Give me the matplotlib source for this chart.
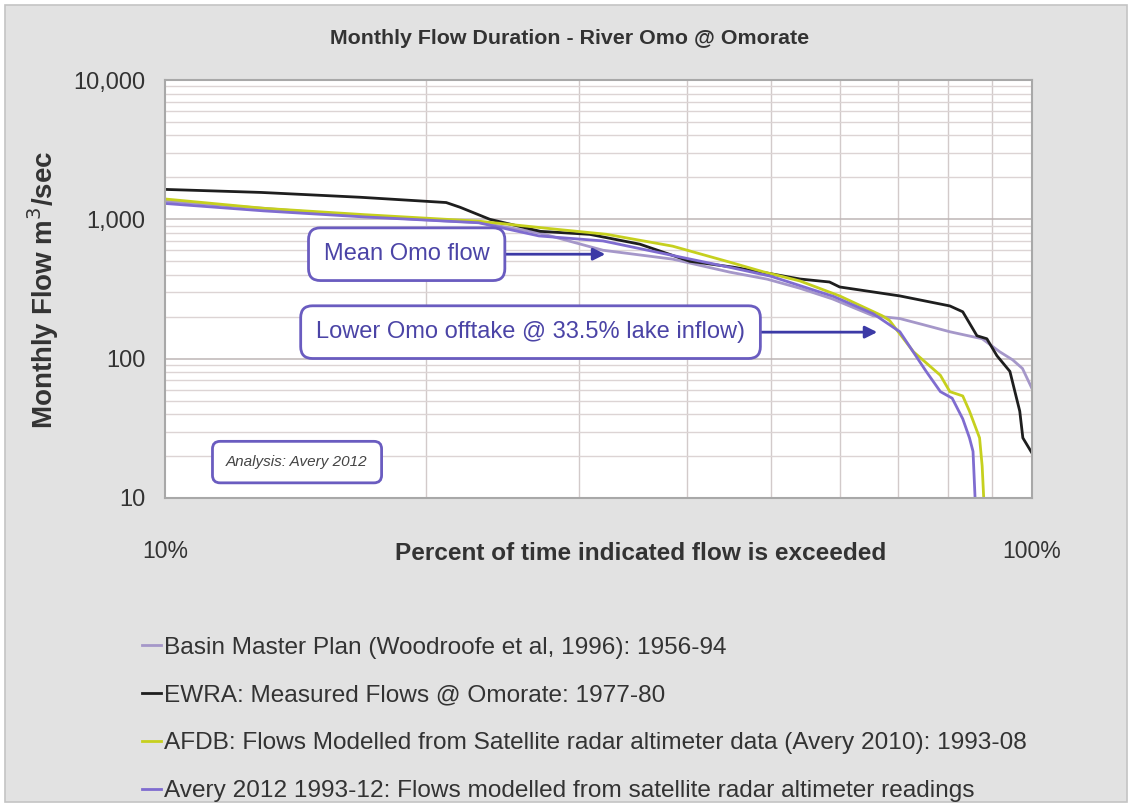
import matplotlib
matplotlib.use("Agg")
import matplotlib.pyplot as plt
from matplotlib.patches import Rectangle
from matplotlib.ticker import FixedLocator, FuncFormatter, NullFormatter, LogLocator

# ---- data: percent of time exceeded vs monthly flow (m3/s) ----
basin_pct = [10, 13, 17, 21, 23, 27, 32, 38.5, 44.8, 49.5, 54, 58.9, 65.6, 70.4, 75, 80.4, 84, 87.6, 91.8, 95, 97.5, 100]
basin_flow = [1350, 1200, 1050, 975, 950, 800, 600, 518, 418, 372, 320, 268, 203, 194, 175, 156, 147, 139, 112, 98, 85, 61]

ewra_pct = [10, 12.9, 16.8, 21.1, 21.9, 23.7, 27.1, 30.9, 35.3, 40.3, 45.2, 50.2, 54, 58.4, 60, 70.4, 80.4, 83.2, 86.4, 88.7, 91.1, 94.3, 96.8, 97.6, 100]
ewra_flow = [1640, 1560, 1440, 1320, 1220, 1000, 820, 780, 663, 500, 454, 405, 373, 355, 327, 282, 239, 217, 146, 139, 105, 81, 42, 27, 21]

afdb_pct = [10, 13, 17, 23, 28.3, 32.3, 38.5, 44.8, 49, 54, 60, 67.2, 68.5, 73, 78.4, 80.4, 83.2, 84.7, 87, 87.6, 88]
afdb_flow = [1400, 1200, 1080, 970, 848, 781, 642, 493, 420, 361, 282, 203, 188, 112, 76, 58, 54, 42, 27, 17, 9.5]

avery_pct = [10, 13, 17, 23, 27, 32, 38, 45, 50, 59, 65.6, 70.4, 75.5, 78.4, 80.9, 83.2, 84.7, 85.5, 86]
avery_flow = [1300, 1150, 1040, 945, 760, 700, 560, 450, 390, 280, 210, 156, 81, 58, 52, 37, 27, 21.6, 9.5]

series_labels = [
    "Basin Master Plan (Woodroofe et al, 1996): 1956-94",
    "EWRA: Measured Flows @ Omorate: 1977-80",
    "AFDB: Flows Modelled from Satellite radar altimeter data (Avery 2010): 1993-08",
    "Avery 2012 1993-12: Flows modelled from satellite radar altimeter readings",
]
series_colors = ["#a597c9", "#1e1e1e", "#c6d01e", "#7f6cd0"]

y_ticks = [10, 100, 1000, 10000]
x_ticks = [10, 100]
x_grid = [20, 30, 40, 50, 60, 70, 80, 90]

regular = ["Liberation Sans", "DejaVu Sans"]

fig = plt.figure(figsize=(11.32, 8.07), dpi=100, facecolor="white")
# grey chart panel with a thin white margin
fig.patches.append(Rectangle((5 / 1132, 5 / 807), 1122 / 1132, 797 / 807,
                             transform=fig.transFigure, facecolor="#e2e2e2",
                             edgecolor="#c4c4c4", linewidth=1.2, zorder=-10))

ax = fig.add_axes([165 / 1132, 1 - 498 / 807, 867 / 1132, 418 / 807])
ax.set_zorder(2)
ax.set_facecolor("white")
ax.set_xscale("log")
ax.set_yscale("log")
ax.set_xlim(10, 100)
ax.set_ylim(10, 10000)

# grid
ax.yaxis.set_minor_locator(LogLocator(base=10, subs=range(2, 10)))
ax.yaxis.set_minor_formatter(NullFormatter())
ax.grid(True, which="major", axis="y", color="#bdb5b5", linewidth=1.1)
ax.grid(True, which="minor", axis="y", color="#dcd4d4", linewidth=1.0)
ax.xaxis.set_minor_locator(FixedLocator(x_grid))
ax.xaxis.set_minor_formatter(NullFormatter())
ax.grid(True, which="minor", axis="x", color="#d2caca", linewidth=1.0)
ax.set_axisbelow(True)

ax.xaxis.set_major_locator(FixedLocator(x_ticks))
ax.xaxis.set_major_formatter(FuncFormatter(lambda v, p: f"{v:.0f}%"))
ax.yaxis.set_major_locator(FixedLocator(y_ticks))
ax.yaxis.set_major_formatter(FuncFormatter(lambda v, p: f"{v:,.0f}"))
ax.tick_params(axis="x", which="both", length=0, pad=30, labelsize=16.5, labelcolor="#333333")
ax.tick_params(axis="y", which="major", length=0, pad=14, labelsize=17, labelcolor="#333333")
ax.tick_params(axis="y", which="minor", length=0)
for lab in ax.get_xticklabels() + ax.get_yticklabels():
    lab.set_family(regular)

for s in ax.spines.values():
    s.set_color("#a8a8a8")
    s.set_linewidth(1.5)

# flow duration curves
data = [(basin_pct, basin_flow), (ewra_pct, ewra_flow), (afdb_pct, afdb_flow), (avery_pct, avery_flow)]
handles = []
for (xs, ys), lab, col in zip(data, series_labels, series_colors):
    h, = ax.plot(xs, ys, color=col, linewidth=2.0, label=lab, solid_joinstyle="round")
    handles.append(h)

# annotation boxes
box_ec = "#6a5cc0"
txt_col = "#4b44a6"
ax.annotate("Mean Omo flow", xy=(32.2, 562), xytext=(19.0, 562),
            ha="center", va="center", fontsize=17, color=txt_col, family=regular,
            bbox=dict(boxstyle="round,pad=0.65,rounding_size=0.5", fc="white", ec=box_ec, lw=2),
            arrowprops=dict(arrowstyle="-|>", color="#3c3aa6", lw=2, mutation_scale=18,
                            shrinkA=0, shrinkB=0))
ax.annotate("Lower Omo offtake @ 33.5% lake inflow)", xy=(66.3, 155), xytext=(26.4, 155),
            ha="center", va="center", fontsize=17, color=txt_col, family=regular,
            bbox=dict(boxstyle="round,pad=0.65,rounding_size=0.5", fc="white", ec=box_ec, lw=2),
            arrowprops=dict(arrowstyle="-|>", color="#3c3aa6", lw=2, mutation_scale=18,
                            shrinkA=0, shrinkB=0))
ax.text(14.2, 18.1, "Analysis: Avery 2012", ha="center", va="center", fontsize=11,
        style="italic", color="#444444", family=regular,
        bbox=dict(boxstyle="round,pad=0.9,rounding_size=0.5", fc="white", ec=box_ec, lw=2))

# titles and axis labels
fig.text(570 / 1132, 1 - 38 / 807, "Monthly Flow Duration - River Omo @ Omorate",
         ha="center", va="center", fontsize=15.4, fontweight="bold", color="#333333", family=regular)
fig.text(641 / 1132, 1 - 553 / 807, "Percent of time indicated flow is exceeded",
         ha="center", va="center", fontsize=17.6, fontweight="bold", color="#333333", family=regular)
fig.text(43 / 1132, 1 - 290 / 807, "Monthly Flow m$^3$/sec", rotation=90,
         ha="center", va="center", fontsize=20, fontweight="bold", color="#333333", family=regular)

leg = fig.legend(handles=handles, labels=series_labels, loc="upper left",
                 bbox_to_anchor=(132 / 1132, 1 - 627 / 807), frameon=False,
                 prop=dict(family=regular, size=17.6), labelcolor="#333333",
                 handlelength=0.8, handletextpad=0.1, labelspacing=1.05, borderaxespad=0)

fig.savefig("out.png", dpi=100, facecolor="white")
